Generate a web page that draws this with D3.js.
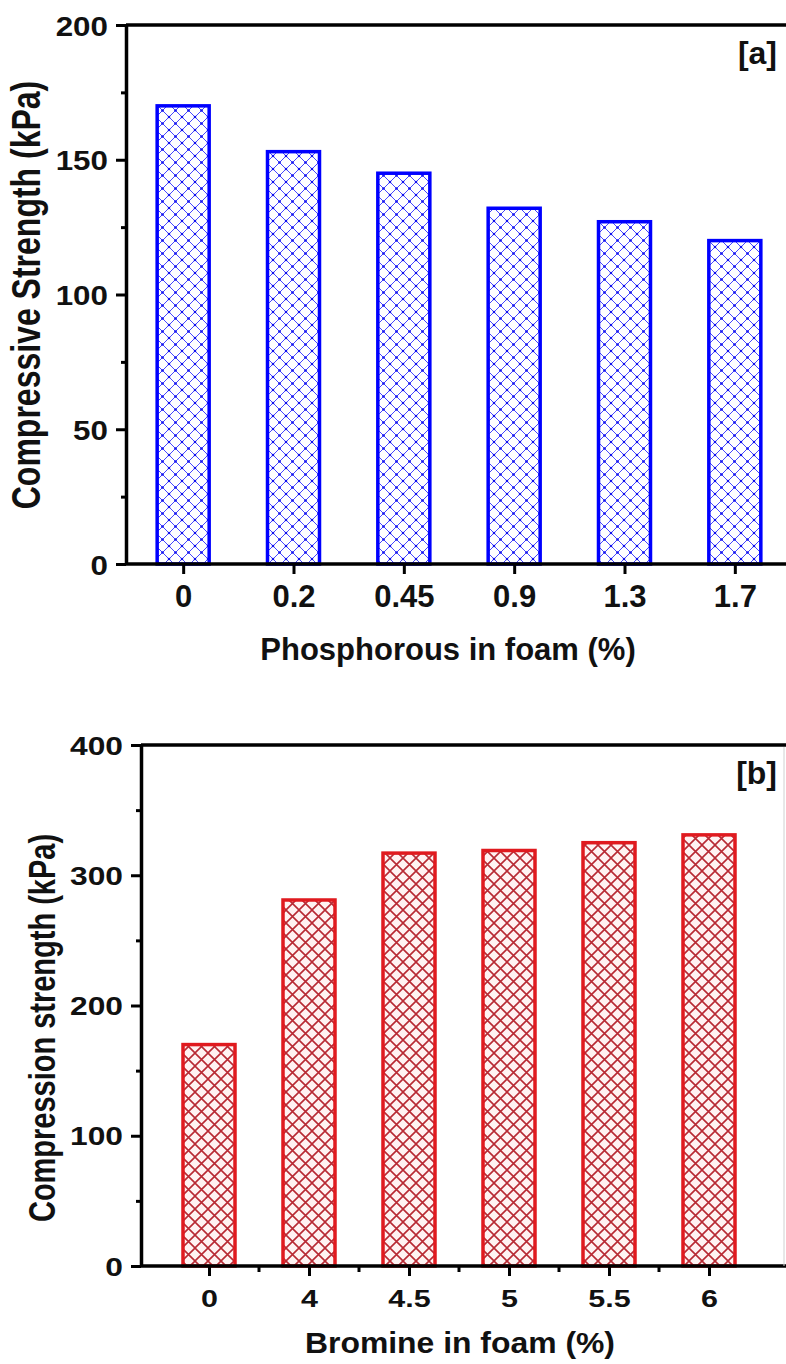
<!DOCTYPE html>
<html><head><meta charset="utf-8">
<script src="https://cdn.jsdelivr.net/npm/d3@7"></script>
<style>body{margin:0;background:#fff}svg{display:block}</style>
</head><body>
<script>
// ---- data ----
const catsA = ["0","0.2","0.45","0.9","1.3","1.7"];
const valsA = [170,153,145,132,127,120];
const yTicksA = [0,50,100,150,200];
const yMinorA = [25,75,125,175];
const titleXA = "Phosphorous in foam (%)";
const titleYA = "Compressive Strength (kPa)";
const tagA = "[a]";

const catsB = ["0","4","4.5","5","5.5","6"];
const valsB = [170,281,317,319,325,331];
const yTicksB = [0,100,200,300,400];
const yMinorB = [50,150,250,350];
const titleXB = "Bromine in foam (%)";
const titleYB = "Compression strength (kPa)";
const tagB = "[b]";

const W = 786, H = 1364;
const svg = d3.select("body").append("svg").attr("width",W).attr("height",H);
svg.append("rect").attr("width",W).attr("height",H).attr("fill","#fff");
const defs = svg.append("defs");

function hatch(id, bg, line, lw, dots){
  const s = 13;
  const p = defs.append("pattern").attr("id",id).attr("patternUnits","userSpaceOnUse")
    .attr("width",s).attr("height",s);
  p.append("rect").attr("width",s).attr("height",s).attr("fill",bg);
  p.append("path").attr("d",`M0,0L${s},${s}M${s},0L0,${s}M-1,1L1,-1M${s-1},${s+1}L${s+1},${s-1}`)
    .attr("stroke",line).attr("stroke-width",lw).attr("fill","none");
  if(dots){
    [[s/2,s/2],[0,0],[s,0],[0,s],[s,s]].forEach(([cx,cy])=>
      p.append("circle").attr("cx",cx).attr("cy",cy).attr("r",1.3).attr("fill",dots));
  }
}
hatch("hA","#ffffff","#4646ff",1,"#1010ee");
hatch("hB","#fff2f2","#b82a34",1.6,null);

const FONT = "'Liberation Sans', Arial, Helvetica, sans-serif";

function stretchText(g, x, y, txt, size, sx, anchor, rot){
  return g.append("text")
    .attr("transform",`translate(${x},${y}) scale(${sx},1)` + (rot?` rotate(${rot})`:""))
    .attr("text-anchor",anchor).attr("font-family",FONT).attr("font-weight","bold")
    .attr("font-size",size).attr("fill","#111").text(txt);
}

function panel(cfg){
  const g = svg.append("g");
  const x = d3.scalePoint().domain(cfg.cats).range(cfg.xr).padding(0.5);
  const y = d3.scaleLinear().domain(cfg.ydom).range([cfg.y0, cfg.y1]);

  // bars
  g.selectAll("rect.bar").data(cfg.vals).join("rect").attr("class","bar")
    .attr("x",(d,i)=>x(cfg.cats[i]) - cfg.bw/2)
    .attr("y",d=>y(d))
    .attr("width",cfg.bw)
    .attr("height",d=>y(0)-y(d))
    .attr("fill",`url(#${cfg.pat})`)
    .attr("stroke",cfg.stroke).attr("stroke-width",3.5);

  // frame lines
  g.append("line").attr("x1",cfg.axX).attr("x2",W).attr("y1",cfg.y1).attr("y2",cfg.y1)
    .attr("stroke","#000").attr("stroke-width",3.5);
  g.append("line").attr("x1",cfg.axX).attr("x2",W).attr("y1",cfg.y0).attr("y2",cfg.y0)
    .attr("stroke","#000").attr("stroke-width",3.5);
  if(cfg.rightLine){
    g.append("line").attr("x1",cfg.rightLine).attr("x2",cfg.rightLine).attr("y1",cfg.y1+2).attr("y2",cfg.y0)
      .attr("stroke","#d0d0d0").attr("stroke-width",1);
  }

  // y axis
  const gy = g.append("g").attr("transform",`translate(${cfg.axX},0)`)
    .call(d3.axisLeft(y).tickValues(cfg.yTicks).tickSize(10).tickSizeOuter(0));
  gy.select(".domain").attr("stroke","#000").attr("stroke-width",3.5);
  gy.selectAll(".tick line").attr("stroke","#000").attr("stroke-width",3);
  gy.selectAll(".tick text")
    .attr("x",null).attr("dy",null)
    .attr("transform",`translate(${-cfg.ylabGap},${cfg.ylabDy}) scale(${cfg.ylabSx},1)`)
    .attr("font-family",FONT).attr("font-weight","bold").attr("font-size",cfg.ylabSize)
    .attr("fill","#111").attr("text-anchor","end");
  const gym = g.append("g").attr("transform",`translate(${cfg.axX},0)`)
    .call(d3.axisLeft(y).tickValues(cfg.yMinor).tickSize(5).tickFormat(""));
  gym.select(".domain").remove();
  gym.selectAll(".tick line").attr("stroke","#000").attr("stroke-width",3);

  // x axis
  const gx = g.append("g").attr("transform",`translate(0,${cfg.y0})`)
    .call(d3.axisBottom(x).tickSize(10).tickSizeOuter(0));
  gx.select(".domain").remove();
  gx.selectAll(".tick line").attr("stroke","#000").attr("stroke-width",3);
  gx.selectAll(".tick text")
    .attr("y",null).attr("dy",null)
    .attr("transform",`translate(0,${cfg.xlabY}) scale(${cfg.xlabSx},1)`)
    .attr("font-family",FONT).attr("font-weight","bold").attr("font-size",cfg.xlabSize)
    .attr("fill","#111").attr("text-anchor","middle");
  if(cfg.xMinor){
    const mids = cfg.cats.slice(1).map((c,i)=>(x(cfg.cats[i])+x(c))/2);
    g.selectAll("line.xm").data(mids).join("line").attr("class","xm")
      .attr("x1",d=>d).attr("x2",d=>d).attr("y1",cfg.y0).attr("y2",cfg.y0+6)
      .attr("stroke","#000").attr("stroke-width",3);
  }

  // titles
  stretchText(g, cfg.txX, cfg.txY, cfg.titleX, cfg.tSize, cfg.tSx, "middle");
  stretchText(g, cfg.tyX, cfg.tyY, cfg.titleY, cfg.tySize, cfg.tySx, "middle", -90);
  stretchText(g, 777, cfg.tagY, cfg.tag, 32, 1, "end");
}

panel({cats:catsA, vals:valsA, yTicks:yTicksA, yMinor:yMinorA, ydom:[0,200],
  xr:[128,790], y0:564, y1:25, axX:126, bw:52, pat:"hA", stroke:"#0000ff",
  ylabGap:18, ylabDy:10, ylabSx:1.12, ylabSize:28,
  xlabY:43, xlabSx:1.0, xlabSize:31, xMinor:false,
  titleX:titleXA, txX:448, txY:660, tSize:31, tSx:1.0,
  titleY:titleYA, tyX:40, tyY:295, tySize:32, tySx:1.25,
  tag:tagA, tagY:64});

panel({cats:catsB, vals:valsB, yTicks:yTicksB, yMinor:yMinorB, ydom:[0,400],
  xr:[159,759], y0:1266, y1:745, axX:141, bw:52, pat:"hB", stroke:"#e01a1f",
  ylabGap:18, ylabDy:9, ylabSx:1.27, ylabSize:25,
  xlabY:41, xlabSx:1.27, xlabSize:24, xMinor:true, rightLine:784,
  titleX:titleXB, txX:460, txY:1353, tSize:29, tSx:1.1,
  titleY:titleYB, tyX:55, tyY:1028, tySize:29, tySx:1.27,
  tag:tagB, tagY:784});
</script>
</body></html>
